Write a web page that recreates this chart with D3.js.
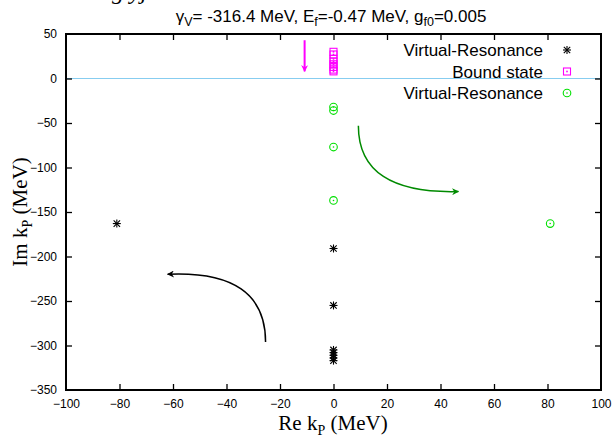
<!DOCTYPE html>
<html>
<head>
<meta charset="utf-8">
<script src="https://cdn.jsdelivr.net/npm/d3@7"></script>
<style>
  body { margin: 0; background: #fff; }
  svg { display: block; }
</style>
</head>
<body>
<svg id="chart" width="612" height="439"></svg>
<script>
// Pole positions in the complex k_P plane (MeV)
const virtualA = [
  [-81, -163], [0, -191], [0, -255],
  [0, -305], [0, -308], [0, -311], [0, -314], [0, -317]
];
const boundState = [
  [0, 30], [0, 27], [0, 22], [0, 19], [0, 16], [0, 13], [0, 10], [0, 8]
];
const virtualB = [
  [0, -32], [0, -36], [0, -77], [0, -137], [81, -163]
];

const xTicks = [-100, -80, -60, -40, -20, 0, 20, 40, 60, 80, 100];
const yTicks = [50, 0, -50, -100, -150, -200, -250, -300, -350];

const legendLabels = ["Virtual-Resonance", "Bound state", "Virtual-Resonance"];

// Trajectory arrows, in data units: start, control, end
const arrowBlack = [[-25.4, -296], [-25.4, -215], [-62, -220]];
const arrowGreen = [[9.3, -53], [9.3, -130], [46.7, -127]];
const arrowMagenta = [[-10.8, 43], [-10.8, 8]];

const SANS = "'Liberation Sans', Arial, sans-serif";
const SERIF = "'Liberation Serif', 'Times New Roman', serif";

const svg = d3.select("#chart");
const M = { left: 66, right: 601, top: 34, bottom: 390 };

const x = d3.scaleLinear().domain([-100, 100]).range([M.left, M.right]);
const y = d3.scaleLinear().domain([-350, 50]).range([M.bottom, M.top]);

// Caption text running off the top edge
svg.append("text")
  .attr("x", 112).attr("y", -1)
  .style("font-family", SERIF)
  .style("font-style", "italic")
  .style("font-size", "24px")
  .text("g yj");

// Title
const title = svg.append("text")
  .attr("x", 331).attr("y", 22)
  .attr("text-anchor", "middle")
  .style("font-family", SANS)
  .style("font-size", "17px");
title.append("tspan").text("γ");
title.append("tspan").attr("dy", 4).style("font-size", "12.5px").text("V");
title.append("tspan").attr("dy", -4).text("= -316.4 MeV, E");
title.append("tspan").attr("dy", 4).style("font-size", "12.5px").text("f");
title.append("tspan").attr("dy", -4).text("=-0.47 MeV, g");
title.append("tspan").attr("dy", 4).style("font-size", "12.5px").text("f0");
title.append("tspan").attr("dy", -4).text("=0.005");

// Zero line
svg.append("line")
  .attr("x1", x(-100)).attr("x2", x(100))
  .attr("y1", y(0)).attr("y2", y(0))
  .attr("stroke", "#87cdf0").attr("stroke-width", 1.2);

// Axes with inward ticks on all four sides
const tickLen = 6;
const axB = svg.append("g").attr("transform", `translate(0,${M.bottom})`)
  .call(d3.axisBottom(x).tickValues(xTicks).tickSize(-tickLen).tickPadding(9).tickFormat(d3.format("d")));
const axT = svg.append("g").attr("transform", `translate(0,${M.top})`)
  .call(d3.axisTop(x).tickValues(xTicks).tickSize(-tickLen).tickFormat(""));
const axL = svg.append("g").attr("transform", `translate(${M.left},0)`)
  .call(d3.axisLeft(y).tickValues(yTicks).tickSize(-tickLen).tickPadding(9).tickFormat(d3.format("d")));
const axR = svg.append("g").attr("transform", `translate(${M.right},0)`)
  .call(d3.axisRight(y).tickValues(yTicks).tickSize(-tickLen).tickFormat(""));
[axB, axT, axL, axR].forEach(g => {
  g.select(".domain").remove();
  g.selectAll(".tick line").attr("stroke", "#000").attr("stroke-width", 1.3);
  g.selectAll(".tick text").attr("fill", "#000")
    .style("font-size", "12px").style("font-family", SANS);
});
// End ticks would sit on the frame
axB.selectAll(".tick").filter(d => d === -100 || d === 100).select("line").remove();
axT.selectAll(".tick").filter(d => d === -100 || d === 100).select("line").remove();
axL.selectAll(".tick").filter(d => d === 50 || d === -350).select("line").remove();
axR.selectAll(".tick").filter(d => d === 50 || d === -350).select("line").remove();

// Frame
svg.append("rect")
  .attr("x", M.left).attr("y", M.top)
  .attr("width", M.right - M.left).attr("height", M.bottom - M.top)
  .attr("fill", "none").attr("stroke", "#000").attr("stroke-width", 2);

// Axis titles
const xl = svg.append("text")
  .attr("x", 333).attr("y", 430)
  .attr("text-anchor", "middle")
  .style("font-family", SERIF)
  .style("font-size", "21px");
xl.append("tspan").text("Re k");
xl.append("tspan").attr("dy", 5).style("font-size", "14px").text("P");
xl.append("tspan").attr("dy", -5).text(" (MeV)");

const yl = svg.append("text")
  .attr("transform", `translate(27,${(M.top + M.bottom) / 2}) rotate(-90)`)
  .attr("text-anchor", "middle")
  .style("font-family", SERIF)
  .style("font-size", "21px");
yl.append("tspan").text("Im k");
yl.append("tspan").attr("dy", 5).style("font-size", "14px").text("P");
yl.append("tspan").attr("dy", -5).text(" (MeV)");

// Marker drawers
function star(g, cx, cy, r, color) {
  const s = g.append("g").attr("stroke", color).attr("stroke-width", 1.1);
  const d = r * 0.8;
  s.append("line").attr("x1", cx - r).attr("x2", cx + r).attr("y1", cy).attr("y2", cy);
  s.append("line").attr("x1", cx).attr("x2", cx).attr("y1", cy - r).attr("y2", cy + r);
  s.append("line").attr("x1", cx - d).attr("x2", cx + d).attr("y1", cy - d).attr("y2", cy + d);
  s.append("line").attr("x1", cx - d).attr("x2", cx + d).attr("y1", cy + d).attr("y2", cy - d);
}
function box(g, cx, cy, r, color) {
  g.append("rect").attr("x", cx - r).attr("y", cy - r).attr("width", 2 * r).attr("height", 2 * r)
    .attr("fill", "none").attr("stroke", color).attr("stroke-width", 1.1);
  g.append("rect").attr("x", cx - 0.8).attr("y", cy - 0.8).attr("width", 1.6).attr("height", 1.6).attr("fill", color);
}
function ring(g, cx, cy, r, color) {
  g.append("circle").attr("cx", cx).attr("cy", cy).attr("r", r)
    .attr("fill", "none").attr("stroke", color).attr("stroke-width", 1.1);
  g.append("circle").attr("cx", cx).attr("cy", cy).attr("r", 0.8).attr("fill", color);
}

const BLACK = "#000000", MAG = "#ff00ff", GREEN = "#00e000";
const pts = svg.append("g");
virtualA.forEach(d => star(pts, x(d[0]), y(d[1]), 4, BLACK));
boundState.forEach(d => box(pts, x(d[0]), y(d[1]), 3.5, MAG));
virtualB.forEach(d => ring(pts, x(d[0]), y(d[1]), 3.8, GREEN));

// Legend
const leg = svg.append("g");
const legY = [50, 71.5, 93];
const drawers = [
  (cx, cy) => star(leg, cx, cy, 4, BLACK),
  (cx, cy) => box(leg, cx, cy, 3.5, MAG),
  (cx, cy) => ring(leg, cx, cy, 3.8, GREEN)
];
legendLabels.forEach((t, i) => {
  leg.append("text").attr("x", 543).attr("y", legY[i] + 6)
    .attr("text-anchor", "end")
    .style("font-family", SANS).style("font-size", "17px").text(t);
  drawers[i](567, legY[i]);
});

// Trajectory arrows
const defs = svg.append("defs");
function marker(id, color, w) {
  defs.append("marker").attr("id", id)
    .attr("viewBox", "0 0 10 10").attr("refX", 9).attr("refY", 5)
    .attr("markerWidth", w).attr("markerHeight", 7).attr("markerUnits", "userSpaceOnUse")
    .attr("orient", "auto")
    .append("path").attr("d", "M0,0 L10,5 L0,10 L3,5 Z").attr("fill", color);
}
marker("hBlack", "#000", 12);
marker("hGreen", "#008a00", 12);
marker("hMag", MAG, 16);

function curve(p) {
  const [a, c, b] = p;
  return `M${x(a[0])},${y(a[1])} Q${x(c[0])},${y(c[1])} ${x(b[0])},${y(b[1])}`;
}
svg.append("path").attr("d", curve(arrowBlack))
  .attr("fill", "none").attr("stroke", "#000").attr("stroke-width", 1.5)
  .attr("marker-end", "url(#hBlack)");
svg.append("path").attr("d", curve(arrowGreen))
  .attr("fill", "none").attr("stroke", "#008a00").attr("stroke-width", 1.5)
  .attr("marker-end", "url(#hGreen)");
svg.append("line")
  .attr("x1", x(arrowMagenta[0][0])).attr("y1", y(arrowMagenta[0][1]))
  .attr("x2", x(arrowMagenta[1][0])).attr("y2", y(arrowMagenta[1][1]))
  .attr("stroke", MAG).attr("stroke-width", 2)
  .attr("marker-end", "url(#hMag)");
</script>
</body>
</html>
